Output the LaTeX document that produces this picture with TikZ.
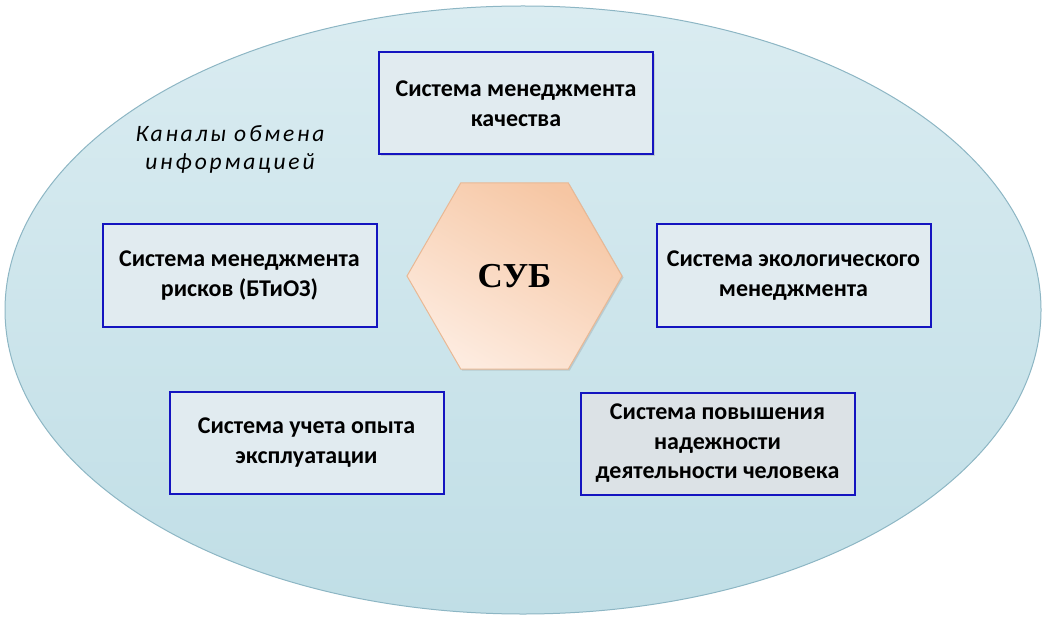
\documentclass[tikz,border=0pt]{standalone}
\usepackage{fontspec}
\setmainfont{Carlito}
\newfontfamily\timesf{Liberation Serif}
\usetikzlibrary{shapes.geometric,shadows}
\definecolor{ellTop}{HTML}{DAECF1}
\definecolor{ellBot}{HTML}{C0DEE6}
\definecolor{ellEdge}{HTML}{8DB6C4}
\definecolor{boxFill}{HTML}{E1EBF0}
\definecolor{boxFillB}{HTML}{DCE2E6}
\definecolor{boxEdge}{HTML}{1414C0}
\definecolor{hexA}{HTML}{F6C6A3}
\definecolor{hexB}{HTML}{FDEBDF}
\definecolor{hexEdge}{HTML}{E9B894}
\tikzset{
  sysbox/.style={draw=boxEdge, line width=2pt, fill=boxFill, minimum width=274pt,
    minimum height=102pt, align=center, font=\fontsize{24}{29.5}\selectfont\bfseries,
    drop shadow={shadow xshift=1.5pt, shadow yshift=-1.5pt, opacity=0.25}},
}
\begin{document}
\begin{tikzpicture}[x=1pt,y=1pt]
\useasboundingbox (0,0) rectangle (1048,622);
% background ellipse
\shade[top color=ellTop, bottom color=ellBot, draw=ellEdge, line width=1pt]
  (523,312) ellipse [x radius=518, y radius=304];
\node[font=\fontsize{23.5}{28}\selectfont\itshape\addfontfeature{LetterSpace=12}, align=center]
  (lbl) at (230,473) {Каналы обмена\\информацией};
% hexagon
\node[regular polygon, regular polygon sides=6, minimum size=215pt, inner sep=0pt,
  draw=hexEdge, line width=1pt, left color=hexA, right color=hexB, shading angle=-30,
  drop shadow={shadow xshift=1.5pt, shadow yshift=-1.5pt, opacity=0.25}]
  (hex) at (514.5,346) {};
\node[font=\timesf\fontsize{35}{38}\selectfont\bfseries] (sub) at (hex.center) {СУБ};
% boxes
\node[sysbox] (q) at (516,518.5) {Система менеджмента\\качества};
\node[sysbox] (r) at (239.5,346.5) {Система менеджмента\\рисков (БТиОЗ)};
\node[sysbox] (e) at (793.5,346.5) {Система экологического\\менеджмента};
\node[sysbox] (o) at (306.5,179.5) {Система учета опыта\\эксплуатации};
\node[sysbox, fill=boxFillB] (h) at (717.5,178.5) {Система повышения\\надежности\\деятельности человека};
\end{tikzpicture}
\end{document}
